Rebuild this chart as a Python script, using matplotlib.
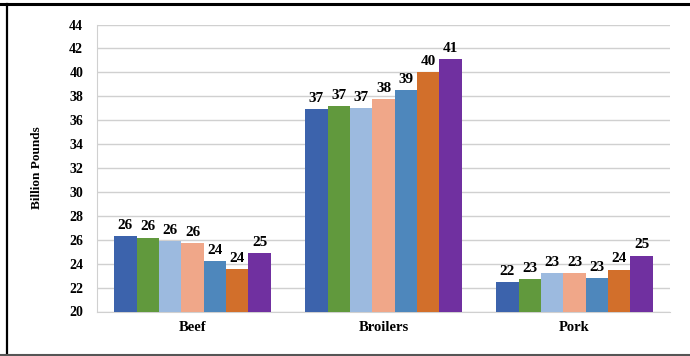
import numpy as np
import matplotlib.pyplot as plt
from matplotlib.lines import Line2D

# meat production by type, billion pounds (seven series per category)
categories = ["Beef", "Broilers", "Pork"]
beef = [26.32, 26.18, 25.88, 25.71, 24.23, 23.57, 24.90]
broilers = [36.91, 37.19, 37.02, 37.80, 38.52, 40.00, 41.09]
pork = [22.45, 22.73, 23.23, 23.18, 22.81, 23.51, 24.68]
y_ticks = list(range(20, 45, 2))

colors = ["#3C63AC", "#61993D", "#9CBADF", "#F0A789", "#4E87BC", "#D26F2B", "#7030A0"]

plt.rcParams['font.family'] = ['Liberation Serif', 'DejaVu Serif']

data = np.array([beef, broilers, pork])
n_series = data.shape[1]
x = np.arange(len(categories))
group_w = 0.82
bar_w = group_w / n_series

fig = plt.figure(figsize=(6.9, 3.56), dpi=100)
ax = fig.add_axes([0.1406, 0.125, 0.8304, 0.806])

for j in range(n_series):
    pos = x - group_w / 2 + bar_w * (j + 0.5)
    vals = data[:, j]
    ax.bar(pos, vals - 20, bottom=20, width=bar_w, color=colors[j], zorder=3)
    for px, v in zip(pos, vals):
        ax.annotate("%.0f" % v, (px, v), xytext=(0, 3), textcoords='offset points',
                    ha='center', va='bottom', fontsize=11, fontweight='bold')

ax.set_ylim(20, 44)
ax.set_xlim(-0.5, len(categories) - 0.5)
ax.set_yticks(y_ticks)
ax.set_yticklabels([str(t) for t in y_ticks], fontsize=10, fontweight='bold')
ax.set_xticks(x)
ax.set_xticklabels(categories, fontsize=10.5, fontweight='bold')
ax.tick_params(axis='both', length=0)
ax.tick_params(axis='y', pad=10)
ax.tick_params(axis='x', pad=7)
ax.yaxis.grid(True, color='#D0D0D0', linewidth=1, zorder=0)
for s in ["top", "right"]:
    ax.spines[s].set_visible(False)
ax.spines["left"].set_color('#D0D0D0')
ax.spines["bottom"].set_color('#D0D0D0')
ax.set_ylabel("Billion Pounds", fontsize=9.5, fontweight='bold')
ax.yaxis.set_label_coords(-0.094, 0.5)

# outer frame
fig.add_artist(Line2D([0.0, 1.0], [0.989, 0.989], color='black', linewidth=2.2, transform=fig.transFigure))
fig.add_artist(Line2D([0.010, 0.010], [0.0, 0.99], color='black', linewidth=1.6, transform=fig.transFigure))
fig.add_artist(Line2D([0.0, 1.0], [0.004, 0.004], color='#555555', linewidth=1.5, transform=fig.transFigure))

fig.savefig("out.png", dpi=100)
